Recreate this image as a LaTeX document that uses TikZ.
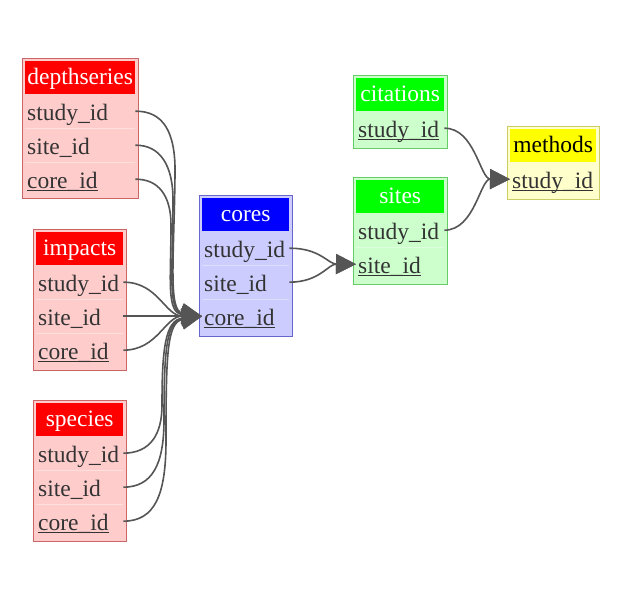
\documentclass[tikz,border=0pt]{standalone}
\usepackage{fontspec}
\setmainfont{Liberation Serif}
\usetikzlibrary{arrows.meta}
\definecolor{redH}{HTML}{FF0000}
\definecolor{redL}{HTML}{FFCCCC}
\definecolor{redB}{HTML}{CC6666}
\definecolor{blueH}{HTML}{0000FF}
\definecolor{blueL}{HTML}{CCCCFF}
\definecolor{blueB}{HTML}{6666CC}
\definecolor{greenH}{HTML}{00FF00}
\definecolor{greenL}{HTML}{CCFFCC}
\definecolor{greenB}{HTML}{66CC66}
\definecolor{yelH}{HTML}{FFFF00}
\definecolor{yelL}{HTML}{FFFFCC}
\definecolor{yelB}{HTML}{CCCC66}
\definecolor{txt}{HTML}{333333}
\definecolor{edgec}{HTML}{555555}
\newcommand{\tabfont}{\fontsize{23.5}{26}\selectfont}
\newcommand{\keyul}[1]{\setbox0\hbox{#1}\rlap{\rule[-2.2pt]{\wd0}{0.9pt}}\box0}
\tikzset{
  tframe/.style={draw=#1, line width=1.3pt, anchor=north west, inner sep=0pt},
  hdr/.style={fill=#1, anchor=north west, inner sep=0pt, text=white, font=\tabfont, minimum height=33pt, text height=17pt, text depth=3pt},
  rowbox/.style={anchor=north west, inner sep=0pt, inner xsep=2pt, font=\tabfont, text=txt, minimum height=34pt, align=left, text height=19pt, text depth=1pt},
  sepline/.style={draw=white!35!#1, line width=0.8pt},
  fk/.style={draw=edgec, line width=1.6pt, -{Triangle[length=20pt,width=20pt]}},
}
\begin{document}
\begin{tikzpicture}[x=1pt,y=-1pt]
\useasboundingbox[fill=white] (0,0) rectangle (620,598);

% depthseries
\node[tframe=redB, fill=redL, minimum width=116pt, minimum height=140pt] (depthseries) at (22,58) {};
\node[hdr=redH, minimum width=110pt] (depthseries-h) at (25,61) {depthseries};
\node[rowbox, text width=106pt] (ds-study) at (25,94) {study\_id};
\node[rowbox, text width=106pt] (ds-site) at (25,128) {site\_id};
\node[rowbox, text width=106pt] (ds-core) at (25,162) {\keyul{core\_id}};
\draw[sepline=redL] (ds-study.south west) -- (ds-study.south east);
\draw[sepline=redL] (ds-site.south west) -- (ds-site.south east);

% impacts
\node[tframe=redB, fill=redL, minimum width=93pt, minimum height=141pt] (impacts) at (33,229) {};
\node[hdr=redH, minimum width=87pt] (impacts-h) at (36,232) {impacts};
\node[rowbox, text width=83pt] (im-study) at (36,265) {study\_id};
\node[rowbox, text width=83pt] (im-site) at (36,299) {site\_id};
\node[rowbox, text width=83pt] (im-core) at (36,333) {\keyul{core\_id}};
\draw[sepline=redL] (im-study.south west) -- (im-study.south east);
\draw[sepline=redL] (im-site.south west) -- (im-site.south east);

% species
\node[tframe=redB, fill=redL, minimum width=93pt, minimum height=141pt] (species) at (33,400) {};
\node[hdr=redH, minimum width=87pt] (species-h) at (36,403) {species};
\node[rowbox, text width=83pt] (sp-study) at (36,436) {study\_id};
\node[rowbox, text width=83pt] (sp-site) at (36,470) {site\_id};
\node[rowbox, text width=83pt] (sp-core) at (36,504) {\keyul{core\_id}};
\draw[sepline=redL] (sp-study.south west) -- (sp-study.south east);
\draw[sepline=redL] (sp-site.south west) -- (sp-site.south east);

% cores
\node[tframe=blueB, fill=blueL, minimum width=93pt, minimum height=141pt] (cores) at (199,195) {};
\node[hdr=blueH, minimum width=87pt] (cores-h) at (202,198) {cores};
\node[rowbox, text width=83pt] (cr-study) at (202,231) {study\_id};
\node[rowbox, text width=83pt] (cr-site) at (202,265) {site\_id};
\node[rowbox, text width=83pt] (cr-core) at (202,299) {\keyul{core\_id}};
\draw[sepline=blueL] (cr-study.south west) -- (cr-study.south east);
\draw[sepline=blueL] (cr-site.south west) -- (cr-site.south east);

% citations
\node[tframe=greenB, fill=greenL, minimum width=94pt, minimum height=73pt] (citations) at (353,75) {};
\node[hdr=greenH, minimum width=88pt] (citations-h) at (356,78) {citations};
\node[rowbox, text width=84pt] (ci-study) at (356,111) {\keyul{study\_id}};

% sites
\node[tframe=greenB, fill=greenL, minimum width=94pt, minimum height=107pt] (sites) at (353,177) {};
\node[hdr=greenH, minimum width=88pt] (sites-h) at (356,180) {sites};
\node[rowbox, text width=84pt] (si-study) at (356,213) {study\_id};
\node[rowbox, text width=84pt] (si-site) at (356,247) {\keyul{site\_id}};
\draw[sepline=greenL] (si-study.south west) -- (si-study.south east);

% methods
\node[tframe=yelB, fill=yelL, minimum width=92pt, minimum height=73pt] (methods) at (507,126) {};
\node[hdr=yelH, text=black, minimum width=86pt] (methods-h) at (510,129) {methods};
\node[rowbox, text width=82pt] (me-study) at (510,162) {\keyul{study\_id}};

% foreign keys into cores.core_id
\draw[fk] (ds-study.east) .. controls (162,111) and (176,130) .. (175,175) .. controls (174,260) and (168,311) .. (cr-core.west);
\draw[fk] (ds-site.east) .. controls (160,145) and (173,165) .. (173,200) .. controls (173,270) and (167,312) .. (cr-core.west);
\draw[fk] (ds-core.east) .. controls (158,179) and (171,195) .. (171,225) .. controls (171,280) and (166,313) .. (cr-core.west);
\draw[fk] (im-study.east) .. controls (158,282) and (165,316) .. (cr-core.west);
\draw[fk] (im-site.east) -- (cr-core.west);
\draw[fk] (im-core.east) .. controls (158,350) and (165,316) .. (cr-core.west);
\draw[fk] (sp-study.east) .. controls (150,453) and (162,435) .. (162,405) .. controls (162,350) and (165,320) .. (cr-core.west);
\draw[fk] (sp-site.east) .. controls (152,487) and (164,465) .. (164,420) .. controls (164,352) and (166,321) .. (cr-core.west);
\draw[fk] (sp-core.east) .. controls (155,521) and (166,495) .. (166,440) .. controls (166,355) and (167,322) .. (cr-core.west);

% cores -> sites
\draw[fk] (cr-study.east) .. controls (320,248) and (328,264) .. (si-site.west);
\draw[fk] (cr-site.east) .. controls (320,282) and (328,264) .. (si-site.west);

% -> methods
\draw[fk] (ci-study.east) .. controls (475,128) and (480,179) .. (me-study.west);
\draw[fk] (si-study.east) .. controls (475,230) and (480,179) .. (me-study.west);
\end{tikzpicture}
\end{document}
